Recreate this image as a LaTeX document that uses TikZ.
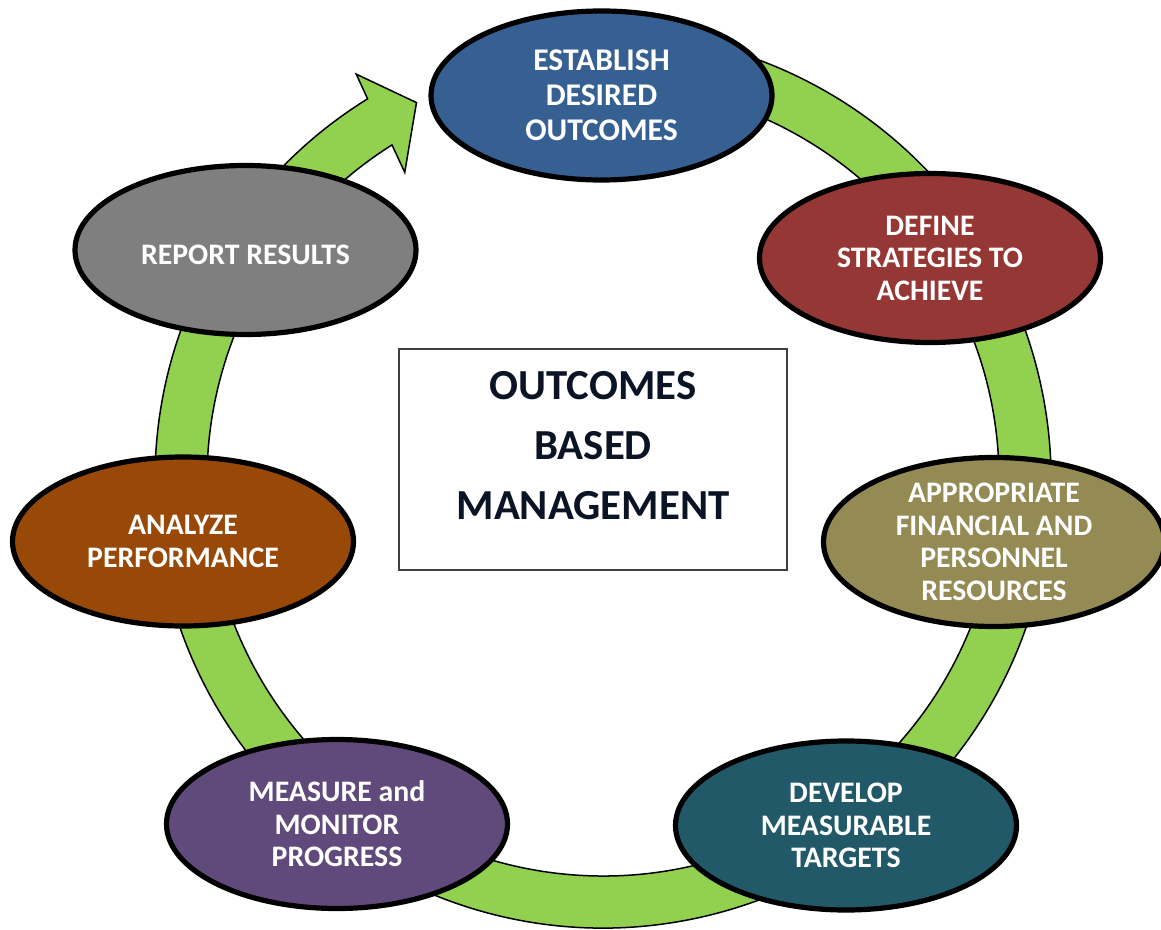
\documentclass[tikz,border=0pt]{standalone}
\usepackage{fontspec}
\setmainfont{Carlito}
\usetikzlibrary{shapes.geometric}
\definecolor{ringgreen}{HTML}{92D050}
\definecolor{estblue}{HTML}{376092}
\definecolor{defred}{HTML}{953735}
\definecolor{appolive}{HTML}{948A54}
\definecolor{devteal}{HTML}{215968}
\definecolor{measpurple}{HTML}{604A7B}
\definecolor{anabrown}{HTML}{984807}
\definecolor{repgray}{HTML}{7F7F7F}
\definecolor{titleink}{HTML}{0B1424}
\definecolor{boxline}{HTML}{3F3F3F}
\begin{document}
\begin{tikzpicture}[x=0.5pt,y=0.5pt,
  oval/.style={ellipse, draw=black, line width=2.6pt, minimum width=170.5pt, minimum height=84.5pt, inner sep=0pt},
  ovaltext/.style={text=white, font=\bfseries\fontsize{14.9}{16.25}\selectfont, align=center, inner sep=0pt},
  band/.style={fill=ringgreen, draw=black, line width=0.75pt, line join=miter},
  titlebox/.style={rectangle, draw=boxline, line width=0.6pt, fill=white, minimum width=194pt, minimum height=110.5pt, inner sep=0pt},
  titletext/.style={text=titleink, font=\bfseries\fontsize{21.4}{30}\selectfont, align=center, inner sep=0pt}]
\useasboundingbox (0,0) rectangle (1161,-930);
\coordinate (C) at (603,-480);
% ring with arrow head
\draw[band] ([shift={(105:448)}]C) arc[start angle=105, end angle=-238.3, radius=448]
  -- ([shift={(-238.7:475)}]C) -- ([shift={(-243.7:421)}]C)
  -- ([shift={(-237.2:366)}]C) -- ([shift={(-237.8:396)}]C)
  arc[start angle=-237.8, end angle=105, radius=396] -- cycle;
% central box
\node[titlebox] (box) at (593,-459.5) {};
\node[titletext] (box-t) at (593,-445.5) {OUTCOMES\\BASED\\MANAGEMENT};
% ovals
\node[oval, fill=estblue] (est) at (601.5,-95.5) {};
\node[ovaltext, font=\bfseries\fontsize{15.8}{17.5}\selectfont] (est-t) at (est) {ESTABLISH\\DESIRED\\OUTCOMES};
\node[oval, fill=defred] (def) at (930,-258) {};
\node[ovaltext] (def-t) at (def) {DEFINE\\STRATEGIES TO\\ACHIEVE};
\node[oval, fill=appolive] (app) at (994,-542) {};
\node[ovaltext] (app-t) at (app) {APPROPRIATE\\FINANCIAL AND\\PERSONNEL\\RESOURCES};
\node[oval, fill=devteal] (dev) at (846,-825.5) {};
\node[ovaltext] (dev-t) at (dev) {DEVELOP\\MEASURABLE\\TARGETS};
\node[oval, fill=measpurple] (mea) at (337,-824) {};
\node[ovaltext] (mea-t) at (mea) {MEASURE and\\MONITOR\\PROGRESS};
\node[oval, fill=anabrown] (ana) at (183,-541.5) {};
\node[ovaltext] (ana-t) at (ana) {ANALYZE\\PERFORMANCE};
\node[oval, fill=repgray] (rep) at (245.5,-250) {};
\node[ovaltext] (rep-t) at (245.5,-255) {REPORT RESULTS};
\end{tikzpicture}
\end{document}
